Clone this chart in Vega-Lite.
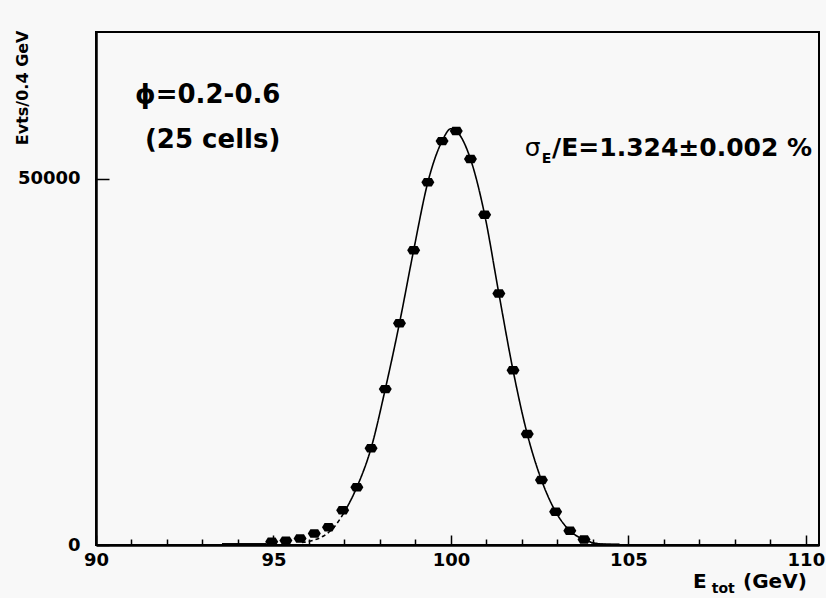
{
  "$schema": "https://vega.github.io/schema/vega-lite/v6.json",
  "width": 723,
  "height": 513,
  "autosize": {"type": "none"},
  "padding": {"left": 96, "top": 32, "right": 7, "bottom": 53},
  "background": "#f8f8f8",
  "config": {
    "view": {"stroke": "black", "strokeWidth": 2},
    "axis": {
      "grid": false,
      "labelFont": "DejaVu Sans",
      "labelFontWeight": "bold",
      "labelFontSize": 18,
      "labelColor": "black",
      "domainColor": "black",
      "domainWidth": 2.5,
      "tickColor": "black",
      "tickWidth": 1.5,
      "labelFlush": false,
      "labelOverlap": false
    }
  },
  "resolve": {"axis": {"x": "independent"}},
  "datasets": {
    "points": [
      {"x": 94.95, "y": 440}, {"x": 95.35, "y": 600}, {"x": 95.75, "y": 890},
      {"x": 96.15, "y": 1580}, {"x": 96.55, "y": 2410}, {"x": 96.95, "y": 4740},
      {"x": 97.35, "y": 7890}, {"x": 97.75, "y": 13210}, {"x": 98.15, "y": 21270},
      {"x": 98.55, "y": 30270}, {"x": 98.95, "y": 40230}, {"x": 99.35, "y": 49510},
      {"x": 99.75, "y": 55110}, {"x": 100.15, "y": 56480}, {"x": 100.55, "y": 52680},
      {"x": 100.95, "y": 45070}, {"x": 101.35, "y": 34320}, {"x": 101.75, "y": 23840},
      {"x": 102.15, "y": 15140}, {"x": 102.55, "y": 8880}, {"x": 102.95, "y": 4540},
      {"x": 103.35, "y": 1950}, {"x": 103.75, "y": 740}
    ],
    "fit": [
      {"part": "extrapolated", "x": 95.8, "y": 330},
      {"part": "extrapolated", "x": 96.1, "y": 620},
      {"part": "extrapolated", "x": 96.4, "y": 1200},
      {"part": "extrapolated", "x": 96.7, "y": 2400},
      {"part": "extrapolated", "x": 97.0, "y": 4500},
      {"part": "fit", "x": 97.0, "y": 4500},
      {"part": "fit", "x": 97.35, "y": 7890},
      {"part": "fit", "x": 97.75, "y": 13210},
      {"part": "fit", "x": 98.15, "y": 21270},
      {"part": "fit", "x": 98.55, "y": 30270},
      {"part": "fit", "x": 98.95, "y": 40230},
      {"part": "fit", "x": 99.35, "y": 49510},
      {"part": "fit", "x": 99.75, "y": 55110},
      {"part": "fit", "x": 100.0, "y": 56800},
      {"part": "fit", "x": 100.15, "y": 56500},
      {"part": "fit", "x": 100.55, "y": 52680},
      {"part": "fit", "x": 100.95, "y": 45070},
      {"part": "fit", "x": 101.35, "y": 34320},
      {"part": "fit", "x": 101.75, "y": 23840},
      {"part": "fit", "x": 102.15, "y": 15140},
      {"part": "fit", "x": 102.55, "y": 8880},
      {"part": "fit", "x": 102.95, "y": 4540},
      {"part": "fit", "x": 103.35, "y": 1950},
      {"part": "fit", "x": 103.75, "y": 740},
      {"part": "fit", "x": 104.1, "y": 220},
      {"part": "fit", "x": 104.5, "y": 50},
      {"part": "fit", "x": 104.8, "y": 0}
    ],
    "hist": [
      {"seg": "a", "x": 93.55, "y": 200}, {"seg": "a", "x": 94.8, "y": 200},
      {"seg": "b", "x": 103.95, "y": 150}, {"seg": "b", "x": 104.75, "y": 150}
    ],
    "one": [{}]
  },
  "layer": [
    {
      "data": {"name": "fit"},
      "mark": {"type": "line", "interpolate": "monotone", "color": "black", "strokeWidth": 1.6},
      "encoding": {
        "x": {
          "field": "x", "type": "quantitative",
          "scale": {"domain": [90, 110.37], "nice": false, "zero": false},
          "axis": {
            "orient": "bottom",
            "title": null,
            "values": [90, 95, 100, 105, 110],
            "labelOverlap": false,
            "labelFlush": false,
            "tickSize": -10,
            "labelPadding": 16
          }
        },
        "y": {
          "field": "y", "type": "quantitative",
          "scale": {"domain": [0, 70000], "nice": false, "zero": false},
          "axis": {
            "values": [0, 50000],
            "format": "d",
            "labelOverlap": false,
            "labelFlush": false,
            "title": "Evts/0.4 GeV",
            "tickSize": -13,
            "labelPadding": 29,
            "titleFont": "DejaVu Sans",
            "titleFontWeight": "bold",
            "titleFontSize": 16,
            "titleColor": "black",
            "titleAngle": -90,
            "titleX": -74,
            "titleY": -2,
            "titleAlign": "right",
            "titleBaseline": "middle"
          }
        },
        "strokeDash": {
          "field": "part", "type": "nominal",
          "scale": {"domain": ["fit", "extrapolated"], "range": [[1, 0], [4, 3]]},
          "legend": null
        }
      }
    },
    {
      "data": {"name": "hist"},
      "mark": {"type": "line", "color": "black", "strokeWidth": 1},
      "encoding": {
        "x": {
          "field": "x", "type": "quantitative",
          "axis": {
            "orient": "bottom",
            "title": null,
            "values": [91,92,93,94,96,97,98,99,101,102,103,104,106,107,108,109],
            "labels": false,
            "domain": false,
            "tickSize": -6
          }
        },
        "y": {"field": "y", "type": "quantitative"},
        "detail": {"field": "seg", "type": "nominal"}
      }
    },
    {
      "data": {"name": "points"},
      "mark": {"type": "point", "shape": "M-1,0L-0.6,-0.65L0.6,-0.65L1,0L0.6,0.65L-0.6,0.65Z", "filled": true, "color": "black", "opacity": 1, "size": 169},
      "encoding": {
        "x": {
          "field": "x", "type": "quantitative",
          "axis": {"orient": "bottom", "title": null, "labels": false, "ticks": false, "domain": false}
        },
        "y": {"field": "y", "type": "quantitative"}
      }
    },
    {
      "data": {"name": "one"},
      "mark": {"type": "text", "text": "ϕ=0.2-0.6", "align": "left", "baseline": "alphabetic", "font": "DejaVu Sans", "fontWeight": "bold", "fontSize": 26, "color": "black",
        "x": {"expr": "scale('x', 91.1)"}, "y": {"expr": "scale('y', 60350)"}}
    },
    {
      "data": {"name": "one"},
      "mark": {"type": "text", "text": "(25 cells)", "align": "left", "baseline": "alphabetic", "font": "DejaVu Sans", "fontWeight": "bold", "fontSize": 26, "color": "black",
        "x": {"expr": "scale('x', 91.38)"}, "y": {"expr": "scale('y', 54220)"}}
    },
    {
      "data": {"name": "one"},
      "mark": {"type": "text", "text": "σ", "align": "left", "baseline": "alphabetic", "font": "DejaVu Sans", "fontSize": 25, "color": "black",
        "x": {"expr": "scale('x', 102.08)"}, "y": {"expr": "scale('y', 53130)"}}
    },
    {
      "data": {"name": "one"},
      "mark": {"type": "text", "text": "E", "align": "left", "baseline": "alphabetic", "font": "DejaVu Sans", "fontWeight": "bold", "fontSize": 14, "color": "black",
        "x": {"expr": "scale('x', 102.56)"}, "y": {"expr": "scale('y', 52180)"}}
    },
    {
      "data": {"name": "one"},
      "mark": {"type": "text", "text": "/E=1.324±0.002 %", "align": "left", "baseline": "alphabetic", "font": "DejaVu Sans", "fontWeight": "bold", "fontSize": 25, "color": "black",
        "x": {"expr": "scale('x', 102.85)"}, "y": {"expr": "scale('y', 53130)"}}
    },
    {
      "data": {"name": "one"},
      "mark": {"type": "text", "text": "E", "align": "left", "baseline": "alphabetic", "font": "DejaVu Sans", "fontWeight": "bold", "fontSize": 20, "color": "black",
        "x": {"expr": "scale('x', 106.82)"}, "y": {"expr": "scale('y', -5860)"}}
    },
    {
      "data": {"name": "one"},
      "mark": {"type": "text", "text": "tot", "align": "left", "baseline": "alphabetic", "font": "DejaVu Sans", "fontWeight": "bold", "fontSize": 14, "color": "black",
        "x": {"expr": "scale('x', 107.35)"}, "y": {"expr": "scale('y', -6540)"}}
    },
    {
      "data": {"name": "one"},
      "mark": {"type": "text", "text": "(GeV)", "align": "left", "baseline": "alphabetic", "font": "DejaVu Sans", "fontWeight": "bold", "fontSize": 20, "color": "black",
        "x": {"expr": "scale('x', 108.23)"}, "y": {"expr": "scale('y', -5860)"}}
    }
  ]
}
